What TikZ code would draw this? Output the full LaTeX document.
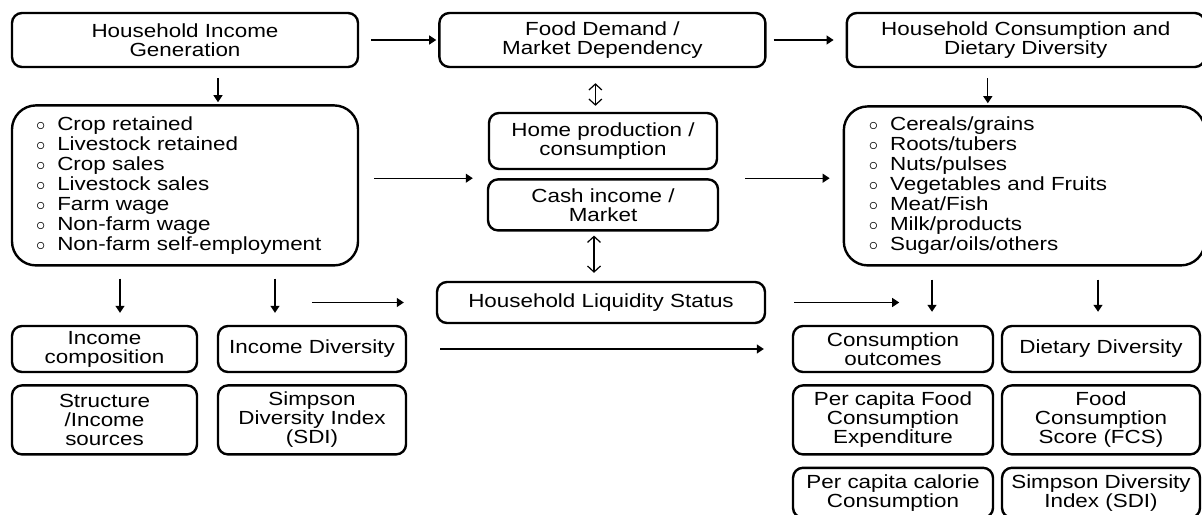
\documentclass[tikz,border=0pt]{standalone}
\usepackage{fontspec}
\setmainfont[FakeStretch=1.18]{Liberation Sans}
\usepackage{tikz}
\usetikzlibrary{arrows.meta,positioning}
\newcommand{\boxfont}{\fontsize{9.5}{9.5}\selectfont\lineskiplimit=-20pt}
\newcommand{\listfont}{\fontsize{9.5}{10}\selectfont\lineskiplimit=-20pt}
\newcommand{\itm}[1]{$\circ$\hspace{6pt}#1}
\tikzset{
  box/.style={rectangle, rounded corners=5pt, draw, line width=1.2pt,
              align=center, inner sep=1pt, font=\boxfont},
  listbox/.style={box, rounded corners=12pt, align=left, font=\listfont},
  arrow/.style={-{Triangle[length=3.5pt,width=4.5pt]}, line width=0.6pt},
  dblarrow/.style={{Straight Barb[length=3pt,width=6.5pt]}-{Straight Barb[length=3pt,width=6.5pt]}, line width=0.6pt},
}
\begin{document}
\begin{tikzpicture}[x=0.5pt, y=-0.5pt]
\useasboundingbox (0,0) rectangle (1202,514);
\node[box, minimum width=173pt, minimum height=27pt] (inc) at (185,40) {Household Income\\Generation};
\node[box, minimum width=163pt, minimum height=27pt, right=39.5pt of inc] (food) {Food Demand /\\Market Dependency};
\node[box, minimum width=179pt, minimum height=27pt, right=39.5pt of food] (hcdd) {Household Consumption and\\Dietary Diversity};
\node[listbox, inner xsep=12pt, text width=149pt, minimum height=80pt, below=18pt of inc] (incList)
  {\itm{Crop retained}\\\itm{Livestock retained}\\\itm{Crop sales}\\\itm{Livestock sales}\\\itm{Farm wage}\\\itm{Non-farm wage}\\\itm{Non-farm self-employment}};
\node[listbox, inner xsep=12.5pt, text width=155.5pt, minimum height=79.5pt, below=18.5pt of hcdd, xshift=-0.75pt] (foodList)
  {\itm{Cereals/grains}\\\itm{Roots/tubers}\\\itm{Nuts/pulses}\\\itm{Vegetables and Fruits}\\\itm{Meat/Fish}\\\itm{Milk/products}\\\itm{Sugar/oils/others}};
\node[box, minimum width=114pt, minimum height=28pt] (home) at (603,141) {Home production /\\consumption};
\node[box, minimum width=115pt, minimum height=25.5pt, below=4pt of home] (cash) {Cash income /\\Market};
\node[box, minimum width=164pt, minimum height=20.5pt] (liq) at (601,302.5) {Household Liquidity Status};
\node[box, minimum width=92.5pt, minimum height=23pt] (incComp) at (104.5,349) {Income\\composition};
\node[box, minimum width=94pt, minimum height=23pt] (incDiv) at (312,349) {Income Diversity};
\node[box, minimum width=92.5pt, minimum height=34.5pt, below=5.5pt of incComp] (struct) {Structure\\/Income\\sources};
\node[box, minimum width=94pt, minimum height=34.5pt, below=5.5pt of incDiv] (sdiL) {Simpson\\Diversity Index\\(SDI)};
\node[box, minimum width=100pt, minimum height=23pt] (consOut) at (893,349) {Consumption\\outcomes};
\node[box, minimum width=99pt, minimum height=23pt] (dietDiv) at (1101,349) {Dietary Diversity};
\node[box, minimum width=100pt, minimum height=34.5pt, below=5.5pt of consOut] (pcFood) {Per capita Food\\Consumption\\Expenditure};
\node[box, minimum width=99pt, minimum height=34.5pt, below=5.5pt of dietDiv] (fcs) {Food\\Consumption\\Score (FCS)};
\node[box, minimum width=100pt, minimum height=25pt, below=5.5pt of pcFood] (pcCal) {Per capita calorie\\Consumption};
\node[box, minimum width=99pt, minimum height=25pt, below=5.5pt of fcs] (sdiR) {Simpson Diversity\\Index (SDI)};

\coordinate (incOut) at ([xshift=16.5pt]inc.south);
\coordinate (hcddOut) at ([xshift=-19pt]hcdd.south);
\coordinate (foodOut) at ([xshift=-3.5pt]food.south);
\coordinate (cashOut) at ([xshift=-4.5pt]cash.south);
\coordinate (compIn) at ([xshift=7.75pt]incComp.north);
\coordinate (divIn) at ([xshift=-18.5pt]incDiv.north);
\coordinate (consIn) at ([xshift=19.5pt]consOut.north);
\coordinate (dietIn) at ([xshift=-1.5pt]dietDiv.north);

\draw[arrow, shorten <=6pt, shorten >=1pt] (inc) -- (food);
\draw[arrow, shorten <=3.5pt, shorten >=6pt] (food) -- (hcdd);
\draw[arrow, shorten <=5pt, shorten >=1pt] (incOut) -- (incOut |- incList.north);
\draw[arrow, shorten <=5pt, shorten >=1pt] (hcddOut) -- (hcddOut |- foodList.north);
\draw[dblarrow, shorten <=7.5pt, shorten >=3pt] (foodOut) -- (foodOut |- home.north);
\draw[dblarrow, shorten <=2pt, shorten >=4pt] (cashOut) -- (cashOut |- liq.north);
\draw[arrow, shorten <=7.5pt, shorten >=7pt] (incList.east |- cash.north west) -- (cash.north west);
\draw[arrow, shorten <=13pt, shorten >=6.5pt] (cash.north east) -- (cash.north east -| foodList.west);
\draw[arrow, shorten <=6pt, shorten >=6pt] (compIn |- incList.south) -- (compIn);
\draw[arrow, shorten <=6pt, shorten >=6pt] (divIn |- incList.south) -- (divIn);
\draw[arrow, shorten >=16pt] ([xshift=-62pt]liq.west) -- (liq.west);
\draw[arrow, shorten <=14pt] (liq.east) -- ([xshift=66.5pt]liq.east);
\draw[arrow, shorten <=16.5pt, shorten >=14pt] (incDiv.east) -- (consOut.west);
\draw[arrow, shorten <=6.5pt, shorten >=6.5pt] (consIn |- foodList.south) -- (consIn);
\draw[arrow, shorten <=6.5pt, shorten >=6.5pt] (dietIn |- foodList.south) -- (dietIn);
\end{tikzpicture}
\end{document}
